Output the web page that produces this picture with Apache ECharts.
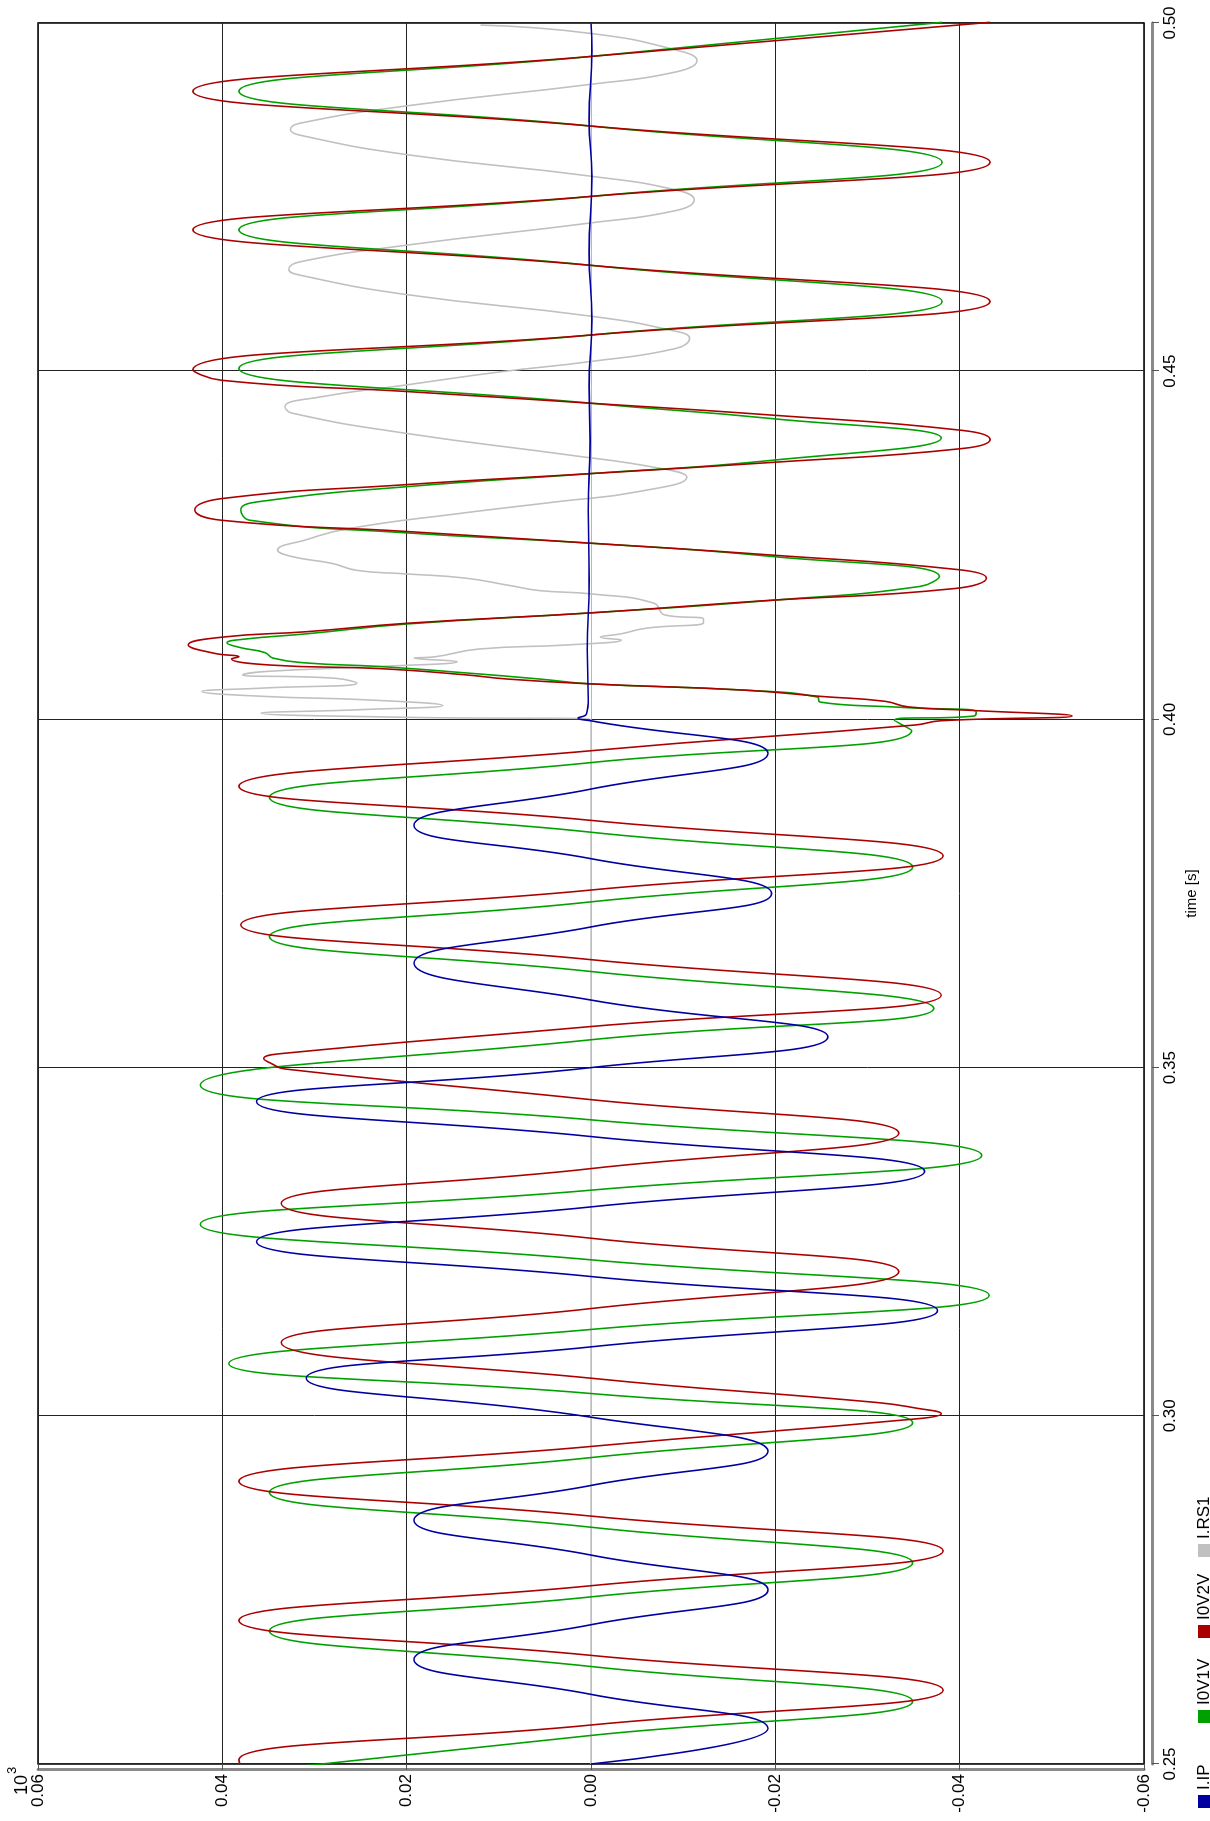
<!DOCTYPE html>
<html><head><meta charset="utf-8">
<script src="https://cdn.jsdelivr.net/npm/echarts@6/dist/echarts.min.js"></script>
<style>
html,body{margin:0;padding:0;background:#fff;overflow:hidden;width:1210px;height:1821px;}
#wrap{position:absolute;left:0;top:0;width:1210px;height:1821px;overflow:hidden;}
#c{position:absolute;left:0;top:0;width:1821px;height:1210px;transform-origin:0 0;transform:translate(0,1821px) rotate(-90deg);}
</style></head>
<body><div id="wrap"><div id="c"></div></div>
<script>
// ---- data (time in s, value in 10^3 units) ----
const timeTicks = [0.25, 0.30, 0.35, 0.40, 0.45, 0.50];
const valueTicks = [-0.06, -0.04, -0.02, 0.00, 0.02, 0.04, 0.06];
const seriesNames = ['I.IP', 'I0V1V', 'I0V2V', 'I.RS1'];

const iIP = [
 [0.2500,0],[0.2551,-0.0192],[0.2600,0],[0.2650,0.0192],[0.2700,0],[0.2750,-0.0192],[0.2800,0],
 [0.2850,0.0192],[0.2900,0],[0.2949,-0.0192],[0.2998,0],[0.3054,0.0309],[0.3099,0],[0.3151,-0.0376],
 [0.3200,0],[0.3250,0.0363],[0.3300,0],[0.3351,-0.0362],[0.3401,0],[0.3451,0.0363],[0.3500,0],
 [0.3544,-0.0257],[0.3597,0],[0.3650,0.0192],[0.3702,0],[0.3750,-0.0196],[0.3800,0],[0.3848,0.0192],
 [0.3900,0],[0.3951,-0.0192],[0.3998,0],[0.4002,0.0014],[0.4008,0.0005],[0.4030,0.0003],
 [0.4100,0.0004],[0.4200,0.0002],[0.4300,0.0003],[0.4400,0.0001],[0.4478,0.0002],[0.4574,-0.0001],
 [0.4670,0.0002],[0.4779,-0.0001],[0.4861,0.0002],[0.4960,-0.0001],[0.5000,0.0000]
];

const i0V1V = [
 [0.2492,0.0349],[0.2541,0],[0.2590,-0.0349],[0.2640,0],[0.2691,0.0349],[0.2740,0],[0.2789,-0.0349],
 [0.2840,0],[0.2890,0.0349],[0.2940,0],[0.2990,-0.0349],[0.3032,0],[0.3075,0.0393],[0.3124,0],
 [0.3173,-0.0432],[0.3224,0],[0.3275,0.0424],[0.3324,0],[0.3374,-0.0424],[0.3425,0],[0.3475,0.0424],
 [0.3540,0],[0.3585,-0.0372],[0.3638,0],[0.3688,0.0349],[0.3738,0],[0.3788,-0.0349],[0.3838,0],
 [0.3888,0.0349],[0.3938,0],[0.3984,-0.0348],[0.3999,-0.0329],[0.4005,-0.0416],[0.4011,-0.0418],
 [0.4017,-0.0341],[0.4025,-0.0248],[0.4032,-0.0246],[0.4042,-0.0167],[0.4051,0],[0.4058,0.0056],
 [0.4067,0.0138],[0.4076,0.0230],[0.4081,0.0308],[0.4088,0.0345],[0.4096,0.0354],[0.4103,0.0380],
 [0.4110,0.0395],[0.4115,0.0378],[0.4123,0.0308],[0.4137,0.0200],[0.4153,0],[0.4171,-0.0196],
 [0.4191,-0.0357],[0.4205,-0.0378],[0.4234,-0.0196],[0.4253,0],[0.4268,0.0202],
 [0.4286,0.0370],[0.4301,0.0380],[0.4315,0.0347],[0.4334,0.0202],[0.4353,0],[0.4372,-0.0196],
 [0.4404,-0.0380],[0.4432,-0.0196],[0.4454,0],[0.4504,0.0382],[0.4552,0],[0.4600,-0.0381],
 [0.4652,0],[0.4703,0.0382],[0.4751,0],[0.4800,-0.0381],[0.4852,0],[0.4902,0.0382],[0.4952,0],
 [0.5001,-0.0381]
];

const i0V2V = [
 [0.2500,0.0381],[0.2506,0.0382],[0.2556,0],[0.2606,-0.0382],[0.2656,0],[0.2706,0.0382],[0.2756,0],
 [0.2806,-0.0382],[0.2856,0],[0.2906,0.0382],[0.2956,0],[0.2996,-0.0356],[0.3003,-0.0380],
 [0.3011,-0.0353],[0.3019,-0.0311],[0.3054,0],[0.3105,0.0336],[0.3154,0],[0.3207,-0.0334],
 [0.3255,0],[0.3305,0.0336],[0.3355,0],[0.3406,-0.0334],[0.3454,0],[0.3498,0.0332],[0.3506,0.0347],
 [0.3513,0.0355],[0.3520,0.0337],[0.3559,0],[0.3604,-0.0380],[0.3655,0],[0.3705,0.0380],[0.3755,0],
 [0.3804,-0.0382],[0.3855,0],[0.3904,0.0382],[0.3955,0],[0.3992,-0.0352],[0.3998,-0.0379],
 [0.4005,-0.0522],[0.4013,-0.0412],[0.4018,-0.0344],[0.4026,-0.0319],[0.4033,-0.0250],
 [0.4042,-0.0167],[0.4051,0],[0.4058,0.0091],[0.4064,0.0136],[0.4073,0.0230],[0.4078,0.0347],
 [0.4087,0.0390],[0.4090,0.0382],[0.4095,0.0409],[0.4107,0.0437],[0.4118,0.0401],
 [0.4126,0.0308],[0.4138,0.0200],[0.4153,0],[0.4170,-0.0183],[0.4188,-0.0395],[0.4203,-0.0429],
 [0.4215,-0.0399],[0.4236,-0.0196],[0.4253,0],[0.4270,0.0202],[0.4286,0.0401],[0.4301,0.0430],
 [0.4317,0.0401],[0.4337,0.0202],[0.4353,0],[0.4369,-0.0196],[0.4389,-0.0403],[0.4402,-0.0433],
 [0.4415,-0.0403],[0.4437,-0.0196],[0.4454,0],[0.4471,0.0202],[0.4487,0.0401],[0.4502,0.0432],
 [0.4552,0],[0.4600,-0.0433],[0.4652,0],[0.4703,0.0432],[0.4751,0],[0.4800,-0.0433],[0.4852,0],
 [0.4902,0.0432],[0.4952,0],[0.5001,-0.0433]
];

const iRS1 = [
 [0.2500,0],[0.3000,0],[0.3500,0],[0.3990,0],[0.4000,0],[0.4003,0.0200],[0.4009,0.0358],[0.4014,0.0250],
 [0.4020,0.0161],[0.4028,0.0242],[0.4033,0.0354],[0.4040,0.0422],[0.4045,0.0356],[0.4052,0.0254],
 [0.4059,0.0277],[0.4064,0.0378],[0.4069,0.0351],[0.4076,0.0230],[0.4083,0.0145],[0.4088,0.0192],
 [0.4090,0.0169],[0.4101,0.0122],[0.4107,0.0025],[0.4114,-0.0033],[0.4118,-0.0010],[0.4123,-0.0033],
 [0.4131,-0.0060],[0.4139,-0.0122],[0.4144,-0.0122],[0.4150,-0.0080],[0.4167,-0.0068],[0.4180,-0.0002],
 [0.4185,0.0056],[0.4192,0.0087],[0.4203,0.0137],[0.4209,0.0201],[0.4214,0.0254],[0.4224,0.0281],
 [0.4234,0.0325],[0.4243,0.0340],[0.4258,0.0309],[0.4274,0.0263],[0.4296,0.0141],[0.4313,0.0034],
 [0.4327,-0.0051],[0.4348,-0.0104],[0.4361,-0.0073],[0.4380,0.0026],[0.4411,0.0202],[0.4440,0.0325],
 [0.4449,0.0332],[0.4463,0.0294],[0.4480,0.0202],[0.4499,0.0099],[0.4514,0],[0.4533,-0.0093],
 [0.4547,-0.0107],[0.4559,-0.0086],[0.4579,0],[0.4610,0.0200],[0.4638,0.0316],[0.4646,0.0328],
 [0.4657,0.0316],[0.4681,0.0200],[0.4713,0],[0.4731,-0.0093],[0.4746,-0.0112],[0.4760,-0.0093],
 [0.4780,0],[0.4811,0.0200],[0.4839,0.0316],[0.4847,0.0326],[0.4856,0.0316],[0.4881,0.0200],
 [0.4912,0],[0.4930,-0.0093],[0.4946,-0.0115],[0.4961,-0.0093],[0.4985,0],[0.4997,0.0120]
];

// ---- chart ----
const colors = {'I.IP':'#0000a0','I0V1V':'#00a000','I0V2V':'#aa0000','I.RS1':'#c0c0c0'};
const seriesData = {'I.IP':iIP,'I0V1V':i0V1V,'I0V2V':i0V2V,'I.RS1':iRS1};
const drawOrder = ['I.RS1','I0V1V','I0V2V','I.IP'];
const legendLeft = [13, 98, 183, 264];
const FONT = '"Liberation Sans", Arial, sans-serif';
const fmt = v => (Math.abs(v) < 1e-9 ? '0.00' : v.toFixed(2));

const chart = echarts.init(document.getElementById('c'), null, {width:1821, height:1210});
chart.setOption({
  animation:false,
  backgroundColor:'#ffffff',
  textStyle:{fontFamily:FONT},
  grid:{left:57, right:23, top:38, bottom:66, show:true, borderColor:'#000', borderWidth:1.5, containLabel:false},
  xAxis:{
    type:'value', min:timeTicks[0], max:timeTicks[timeTicks.length-1], interval:0.05,
    position:'bottom', offset:8,
    axisLine:{show:true, onZero:false, lineStyle:{color:'#8a8a8a', width:3}},
    axisTick:{show:true, inside:false, length:7, lineStyle:{color:'#555', width:1}},
    axisLabel:{show:true, margin:10, fontSize:17, color:'#000', fontFamily:FONT, formatter:fmt},
    splitLine:{show:true, lineStyle:{color:'#222', width:1}},
    name:'time [s]', nameLocation:'middle', nameGap:23,
    nameTextStyle:{fontSize:15, color:'#000', fontFamily:FONT}
  },
  yAxis:{
    type:'value', min:valueTicks[0], max:valueTicks[valueTicks.length-1], interval:0.02,
    position:'left', offset:6,
    axisLine:{show:true, onZero:false, lineStyle:{color:'#8a8a8a', width:3}},
    axisTick:{show:true, inside:true, length:6, lineStyle:{color:'#555', width:1}},
    axisLabel:{show:true, margin:4, fontSize:17, color:'#000', fontFamily:FONT, formatter:fmt},
    splitLine:{show:true, lineStyle:{color:['#222','#222','#222','#b8b8b8','#222','#222','#222'], width:1}}
  },
  legend: seriesNames.map((n,i)=>({
    data:[n], left:legendLeft[i], top:1196, padding:0, itemWidth:13, itemHeight:13, icon:'rect',
    selectedMode:false, textStyle:{fontSize:17, color:'#000', fontFamily:FONT}
  })),
  graphic:[
    {type:'text', x:46, y:22, style:{text:'10', fontSize:18, fontFamily:FONT, fill:'#000', align:'right', verticalAlign:'middle', textAlign:'right', textVerticalAlign:'middle'}},
    {type:'text', x:47, y:12, style:{text:'3', fontSize:13, fontFamily:FONT, fill:'#000', align:'left', verticalAlign:'middle', textAlign:'left', textVerticalAlign:'middle'}}
  ],
  series: drawOrder.map((n,i)=>({
    type:'line', name:n, data:seriesData[n], showSymbol:false, symbol:'none',
    smooth:0.5, clip:true, z:2+i,
    color:colors[n], itemStyle:{color:colors[n]},
    lineStyle:{width:1.6, color:colors[n]}
  }))
});
</script>
</body></html>
